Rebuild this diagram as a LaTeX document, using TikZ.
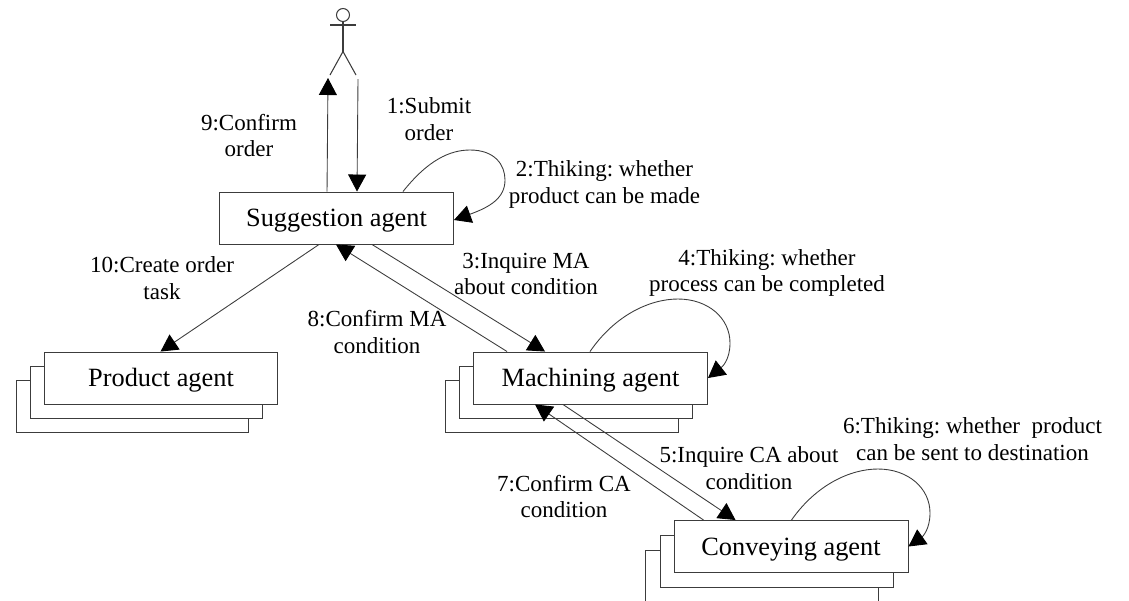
\documentclass[tikz,border=0pt]{standalone}
\usepackage{fontspec}
\setmainfont{Liberation Serif}
\usetikzlibrary{arrows.meta}
\definecolor{linecolor}{HTML}{3C3C3C}
\tikzset{
	agentbox/.style={draw=linecolor,fill=white,line width=0.55pt,minimum width=4.68cm,minimum height=1.04cm,inner sep=0pt,text height=10.2pt,text depth=0pt,font=\fontsize{15}{15}\selectfont},
	stackbox/.style={draw=linecolor,fill=white,line width=0.55pt,minimum width=4.66cm,minimum height=1.04cm,inner sep=0pt},
	msglabel/.style={align=center,inner sep=0pt,font=\frenchspacing\fontsize{13.1}{15.3}\selectfont},
	msgline/.style={draw=linecolor,line width=0.5pt,-{Triangle[length=0.34cm,width=0.36cm,black]}}
}
\begin{document}
\begin{tikzpicture}[x=0.02cm,y=-0.02cm]
	% Boundary box
	\useasboundingbox (0,0) rectangle (1129,600);
	\clip (0,0) rectangle (1129,600);

	% Actor
	\node[draw=linecolor,circle,line width=0.6pt,minimum size=0.26cm,inner sep=0pt] (head) at (343,15) {};
	\coordinate (hand1) at (330,25);
	\coordinate (hand2) at (356,25);
	\coordinate (hip) at (343,51.5);
	\coordinate (foot1) at (330,75);
	\coordinate (foot2) at (356,75);
	\draw[linecolor,line width=0.6pt] (hand1) -- (hand2);
	\draw[linecolor,line width=0.6pt] (head) -- (hip);
	\draw[linecolor,line width=0.6pt] (foot1) -- (hip) -- (foot2);
	\coordinate (actorout) at (328,78);
	\coordinate (actorin) at (358,79);

	% Agents
	\node[agentbox] (suggestion) at (336.5,218) {Suggestion agent};

	\node[stackbox] (product3) at (132.5,406.5) {};
	\node[stackbox] (product2) at (146.5,392) {};
	\node[agentbox] (product) at (161,378) {Product agent};

	\node[stackbox] (machining3) at (562,406.5) {};
	\node[stackbox] (machining2) at (576,392) {};
	\node[agentbox] (machining) at (590.5,378) {Machining agent};

	\node[stackbox] (conveying3) at (762,576) {};
	\node[stackbox] (conveying2) at (777,561) {};
	\node[agentbox] (conveying) at (791,546.5) {Conveying agent};

	% Messages
	\draw[msgline] ([xshift=2.16cm]suggestion.north west) -- (actorout);
	\draw[msgline] (actorin) -- ([xshift=2.76cm]suggestion.north west);
	\draw[msgline] ([xshift=2cm]suggestion.south west) -- ([xshift=2.34cm]product.north west);
	\draw[msgline] ([xshift=3.06cm]suggestion.south west) -- ([xshift=1.44cm]machining.north west);
	\draw[msgline] ([xshift=0.68cm]machining.north west) -- ([xshift=2.34cm]suggestion.south west);
	\draw[msgline] ([xshift=1.8cm]machining.south west) -- ([xshift=1.24cm]conveying.north west);
	\draw[msgline] ([xshift=0.6cm]conveying.north west) -- ([xshift=1.24cm]machining.south west);

	% Self messages
	\draw[msgline] ([xshift=3.68cm]suggestion.north west) .. controls (428,160) and (450,150) .. (470,150) .. controls (495,150) and (505,165) .. (505,180) .. controls (505,198) and (490,207) .. ([yshift=-0.04cm]suggestion.east);
	\draw[msgline] ([xshift=2.34cm]machining.north west) .. controls (615,315) and (650,299) .. (678,299) .. controls (708,299) and (730,318) .. (730,343) .. controls (730,360) and (722,367) .. (machining.east);
	\draw[msgline] ([xshift=2.36cm]conveying.north west) .. controls (816,485) and (850,469) .. (878,469) .. controls (908,469) and (930,488) .. (930,513) .. controls (930,530) and (922,537) .. (conveying.east);

	% Labels
	\node[msglabel] (l1) at (429,119) {1:Submit\\order};
	\node[msglabel] (l2) at (604.5,184.5) {2:Thiking: whether\\product can be made};
	\node[msglabel] (l3) at (526,274) {3:Inquire MA\\about condition};
	\node[msglabel] (l4) at (767,273) {4:Thiking: whether\\process can be completed};
	\node[msglabel] (l5) at (749,468.5) {5:Inquire CA about\\condition};
	\node[msglabel] (l6) at (972.5,439.5) {6:Thiking: whether\ \ product\\can be sent to destination};
	\node[msglabel] (l7) at (564,496.5) {7:Confirm CA\\condition};
	\node[msglabel] (l8) at (377,332) {8:Confirm MA\\condition};
	\node[msglabel] (l9) at (249,135.5) {9:Confirm\\order};
	\node[msglabel] (l10) at (162,278.5) {10:Create order\\task};
\end{tikzpicture}
\end{document}
